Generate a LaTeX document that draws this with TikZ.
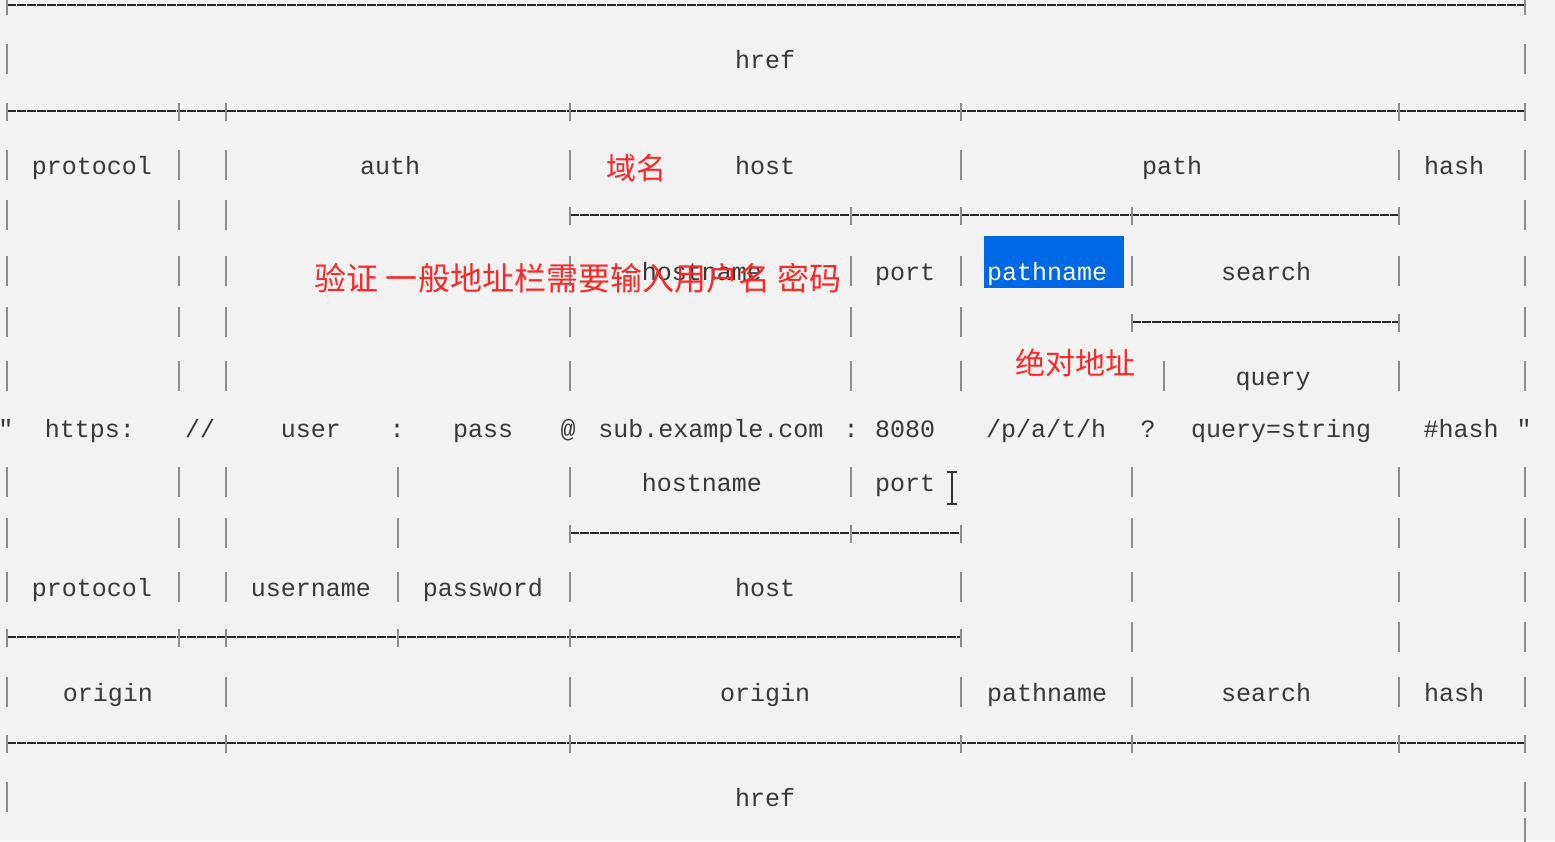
\documentclass[tikz,border=0pt]{standalone}
\usepackage{fontspec}
\setmonofont{Liberation Mono}
\newfontfamily\cjk{Noto Sans CJK SC}
\begin{document}
\begin{tikzpicture}[x=1pt,y=-1pt,
  txt/.style={font=\ttfamily\fontsize{25}{25}\selectfont,text=black!78,inner sep=0pt,anchor=base},
  red/.style={font=\cjk\fontsize{30}{30}\selectfont,text=red!85!white,inner sep=0pt},
  bar/.style={draw=black!45,line width=1.6pt},
  hl/.style={draw=black!85,line width=1.4pt,dash pattern=on 9pt off 1pt},
  tick/.style={draw=black!45,line width=1.6pt}]
\fill[black!5] (0,0) rectangle (1555,841);
\useasboundingbox (0,0) rectangle (1555,841);
\newcommand\mybars[2]{\foreach \xx in {#2}{\draw[bar] (\xx,#1-15) -- (\xx,#1+15);}}
\mybars{59}{7,1525}
\mybars{165}{7,179,226,570,961,1399,1525}
\mybars{215}{7,179,226,1525}
\mybars{271}{7,179,226,570,851,961,1132,1399,1525}
\mybars{322}{7,179,226,570,851,961,1525}
\mybars{376}{7,179,226,570,851,961,1164,1399,1525}
\mybars{482}{7,179,226,398,570,851,1132,1399,1525}
\mybars{533}{7,179,226,398,1132,1399,1525}
\mybars{587}{7,179,226,398,570,961,1132,1399,1525}
\mybars{637}{1132,1399,1525}
\mybars{692}{7,226,570,961,1132,1399,1525}
\mybars{797}{7,1525}
\mybars{833}{1525}
\newcommand\myline[4]{\draw[hl] (#2,#1) -- (#3,#1);
  \foreach \xx in {#4}{\draw[tick] (\xx,#1-8) -- (\xx,#1+10);}}
\myline{5}{7}{1525}{7,1525}
\myline{111}{7}{1525}{7,179,226,570,961,1399,1525}
\myline{215}{570}{1399}{570,851,961,1132,1399}
\myline{322}{1132}{1399}{1132,1399}
\myline{533}{570}{961}{570,851,961}
\myline{637}{7}{961}{7,179,226,398,570,961}
\myline{743}{7}{1525}{7,226,570,961,1132,1399,1525}
\fill[blue!55!cyan!90!black] (984,236) rectangle (1124,288);
\node[txt] (href1) at (765,68) {href};
\node[txt] (prot1) at (92,174) {protocol};
\node[txt] (auth) at (390,174) {auth};
\node[txt] (host1) at (765,174) {host};
\node[txt] (path) at (1172,174) {path};
\node[txt] (hash1) at (1454,174) {hash};
\node[txt] (hostn1) at (702,280) {hostname};
\node[txt] (port1) at (905,280) {port};
\node[txt,text=white] (pathn1) at (1047,280) {pathname};
\node[txt] (search1) at (1266,280) {search};
\node[txt] (query) at (1273,385) {query};
\node[txt] (q1) at (6,437) {"};
\node[txt] (https) at (90,437) {https:};
\node[txt] (sl) at (200,437) {//};
\node[txt] (usr) at (311,437) {user};
\node[txt] (c1) at (397,437) {:};
\node[txt] (pss) at (483,437) {pass};
\node[txt] (at) at (568,437) {@};
\node[txt] (dom) at (711,437) {sub.example.com};
\node[txt] (c2) at (851,437) {:};
\node[txt] (num) at (905,437) {8080};
\node[txt] (pth) at (1046,437) {/p/a/t/h};
\node[txt] (qm) at (1148,437) {?};
\node[txt] (qs) at (1281,437) {query=string};
\node[txt] (hsh) at (1461,437) {\#hash};
\node[txt] (q2) at (1524,437) {"};
\node[txt] (hostn2) at (702,491) {hostname};
\node[txt] (port2) at (905,491) {port};
\node[txt] (prot2) at (92,596) {protocol};
\node[txt] (user) at (311,596) {username};
\node[txt] (pass) at (483,596) {password};
\node[txt] (host2) at (765,596) {host};
\node[txt] (orig1) at (108,701) {origin};
\node[txt] (orig2) at (765,701) {origin};
\node[txt] (pathn2) at (1047,701) {pathname};
\node[txt] (search2) at (1266,701) {search};
\node[txt] (hash2) at (1454,701) {hash};
\node[txt] (href2) at (765,806) {href};
\draw[black!80,line width=1.3pt] (952,472) -- (952,504) (947,472)--(957,472) (947,504)--(957,504);
\node[red] (yuming) at (636,168) {域名};
\node[red,font=\cjk\fontsize{32}{32}\selectfont] (yanzheng) at (578,278) {验证 一般地址栏需要输入用户名 密码};
\node[red] (juedui) at (1075,363) {绝对地址};
\end{tikzpicture}
\end{document}
